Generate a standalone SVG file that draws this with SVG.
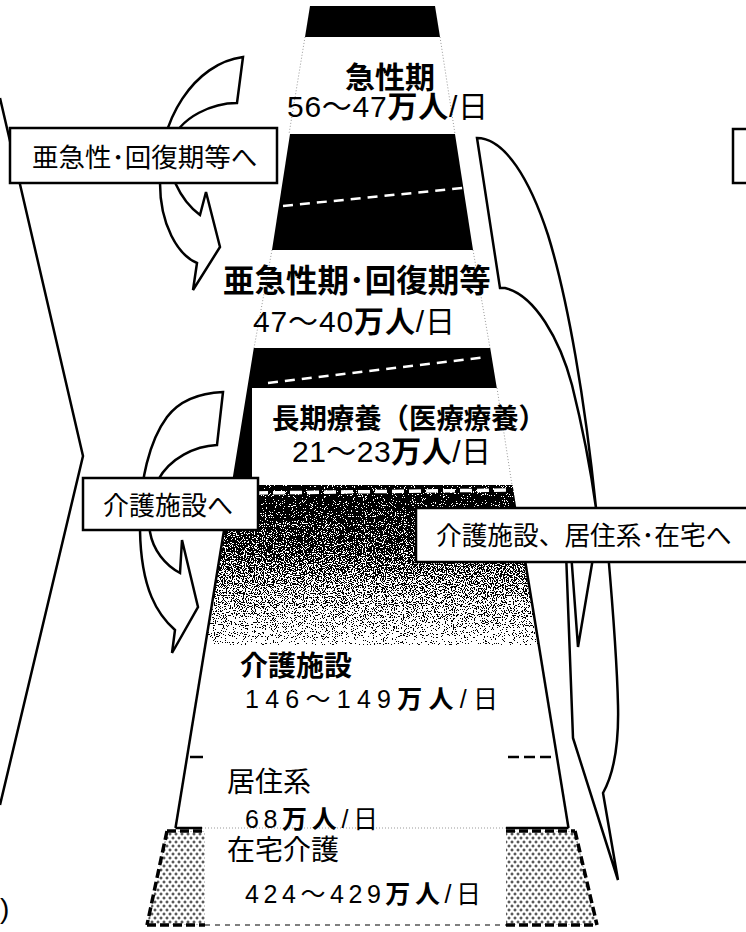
<svg xmlns="http://www.w3.org/2000/svg" width="746" height="932" viewBox="0 0 746 932">
<style>
.t{font-family:"Liberation Sans","Noto Sans CJK JP",sans-serif;fill:#000}
.b{font-weight:bold}
.box{fill:#fff;stroke:#000;stroke-width:2.5}
.arrow{fill:#fff;stroke:#000;stroke-width:2.5;stroke-linejoin:miter}
.edge{fill:none;stroke:#000;stroke-width:2.5}
.wdash{fill:none;stroke:#fff;stroke-width:2.5;stroke-dasharray:10 7}
.wdash2{fill:none;stroke:#fff;stroke-width:3.5;stroke-dasharray:12 5}
.faint{fill:none;stroke:#999;stroke-width:1;stroke-dasharray:1 2}
.kdash{fill:none;stroke:#000;stroke-width:3.5;stroke-dasharray:9 4}
.tdash{fill:none;stroke:#000;stroke-width:1.2;stroke-dasharray:5 5}
</style>
<defs>
<filter id="dither" filterUnits="userSpaceOnUse" x="150" y="480" width="420" height="170" color-interpolation-filters="sRGB">
<feTurbulence type="fractalNoise" baseFrequency="0.9" numOctaves="2" seed="5" result="n"/>
<feColorMatrix in="n" type="matrix" values="-3 0 0 0 2  -3 0 0 0 2  -3 0 0 0 2  0 0 0 0 1" result="ni"/>
<feComposite in="SourceGraphic" in2="ni" operator="arithmetic" k1="0" k2="1" k3="1" k4="-0.5" result="s"/>
<feComponentTransfer in="s"><feFuncR type="discrete" tableValues="0 1"/><feFuncG type="discrete" tableValues="0 1"/><feFuncB type="discrete" tableValues="0 1"/><feFuncA type="linear" slope="0" intercept="1"/></feComponentTransfer>
</filter>
<linearGradient id="fade" gradientUnits="userSpaceOnUse" x1="0" y1="485" x2="0" y2="645">
<stop offset="0" stop-color="#000"/>
<stop offset="0.1" stop-color="#000"/>
<stop offset="0.2" stop-color="#222"/>
<stop offset="0.4" stop-color="#444"/>
<stop offset="0.6" stop-color="#8a8a8a"/>
<stop offset="0.8" stop-color="#bbb"/>
<stop offset="0.95" stop-color="#e8e8e8"/>
<stop offset="1" stop-color="#fff"/>
</linearGradient>
<clipPath id="grainClip"><polygon points="231.4,485 512.6,485 538.5,645 205.3,645"/></clipPath>
<pattern id="cross" width="6" height="8" patternUnits="userSpaceOnUse">
<rect width="6" height="8" fill="#fff"/>
<path d="M0.5,2h3M2,0.5v3M3.5,6h3M5,4.5v3M-2.5,6h3" stroke="#222" stroke-width="1"/>
</pattern>
</defs>
<rect width="746" height="932" fill="#fff"/>

<g id="acute">
<polygon points="310,6 435,6 440,37 305,37" fill="#000"/>
<line class="faint" x1="305" y1="37" x2="289" y2="134"/>
<line class="faint" x1="440" y1="37" x2="455" y2="134"/>
<text class="t b" x="345" y="88" font-size="30">急性期</text>
<text class="t" x="287" y="117" font-size="30" textLength="201" lengthAdjust="spacing">56～47<tspan class="b">万人</tspan>/日</text>
</g>

<g id="subacute">
<polygon points="290,134 455,134 473,250 272,250" fill="#000"/>
<line class="wdash" x1="283" y1="206" x2="463" y2="188"/>
<line class="faint" x1="272" y1="250" x2="254" y2="348"/>
<line class="faint" x1="473" y1="250" x2="490" y2="348"/>
<text class="t b" x="223" y="292" font-size="31.5">亜急性期･回復期等</text>
<text class="t" x="253" y="332" font-size="30" textLength="202" lengthAdjust="spacing">47～40<tspan class="b">万人</tspan>/日</text>
</g>

<g id="longterm">
<polygon points="253.8,348 490.2,348 496.8,388 252,388 252,486 231.4,486" fill="#000"/>
<line class="wdash" x1="268" y1="383" x2="487" y2="357"/>
<line class="faint" x1="497" y1="388" x2="512" y2="485"/>
<text class="t b" x="272" y="429" font-size="28" textLength="274" lengthAdjust="spacingAndGlyphs">長期療養（医療療養）</text>
<text class="t" x="292" y="462" font-size="30" textLength="199" lengthAdjust="spacing">21～23<tspan class="b">万人</tspan>/日</text>
</g>

<g id="transition">
<rect x="150" y="480" width="420" height="170" fill="url(#fade)" filter="url(#dither)" clip-path="url(#grainClip)"/>
<line class="wdash2" x1="256" y1="493" x2="510" y2="490"/>
</g>

<g id="care-facility">
<line class="edge" x1="231.4" y1="485" x2="175.5" y2="828"/>
<line class="edge" x1="525" y1="560" x2="568.5" y2="828"/>
<line class="edge" x1="175.5" y1="828" x2="202" y2="828"/>
<line class="edge" x1="506" y1="828" x2="568.5" y2="828"/>
<line class="faint" x1="202" y1="828" x2="506" y2="828" stroke="#555"/>
<text class="t b" x="240" y="676" font-size="28">介護施設</text>
<text class="t" x="245" y="708" font-size="25" textLength="253" lengthAdjust="spacing">146～149<tspan class="b">万人</tspan>/日</text>
</g>

<g id="residential">
<line class="edge" x1="190" y1="757" x2="203" y2="757"/>
<line class="edge" x1="508" y1="757" x2="555" y2="757" stroke-dasharray="11 5"/>
<text class="t" x="227" y="792" font-size="28">居住系</text>
<text class="t" x="245" y="828" font-size="25" textLength="133" lengthAdjust="spacing">68<tspan class="b">万人</tspan>/日</text>
</g>

<g id="home-care">
<polygon points="167,831 205,831 205,925 147,925" fill="url(#cross)"/>
<polygon points="506,831 575,831 597,925 506,925" fill="url(#cross)"/>
<line class="kdash" x1="167" y1="831" x2="147" y2="925"/>
<line class="kdash" x1="575" y1="831" x2="597" y2="925"/>
<line class="kdash" x1="167" y1="831" x2="205" y2="831"/>
<line class="kdash" x1="506" y1="831" x2="575" y2="831"/>
<line class="kdash" x1="147" y1="925" x2="205" y2="925"/>
<line class="kdash" x1="506" y1="925" x2="597" y2="925"/>
<line class="tdash" x1="205" y1="925" x2="506" y2="925"/>
<text class="t" x="227" y="860" font-size="28">在宅介護</text>
<text class="t" x="245" y="903" font-size="25" textLength="236" lengthAdjust="spacing">424～429<tspan class="b">万人</tspan>/日</text>
</g>

<g id="connectors">
<polyline class="edge" points="0,98 83,456 0,805"/>
<path id="arrow-subacute" class="arrow" d="M243,57 L237,103 C215,103 180,115 170,145 C165,170 180,200 200,215 L206,192 L220,247 L193,290 L197,263 C178,255 160,225 160,183 C157,120 195,63 243,57 Z"/>
<path id="arrow-care" class="arrow" d="M223,392 L217,445 C195,446 170,458 158,480 C148,500 148,520 150,532 C153,550 165,565 180,573 L182,540 L198,607 L172,653 L175,630 C158,615 141,590 140,530 C139,480 150,440 167,417 C180,400 200,393 223,392 Z"/>
<path id="arrow-right-top" class="arrow" d="M477,138 C505,138 530,180 548,235 C568,300 585,400 596,508 C590,465 582,425 572,385 C560,340 535,295 505,288 L500,288 Z"/>
<path id="arrow-right-bottom" class="arrow" d="M566,552 L573,738 L618,880 L603,793 C613,775 619,745 618,705 C617,660 613,610 608,552 Z"/>
<path class="edge" d="M571,552 L578,647 L594,552"/>
</g>

<g id="label-subacute">
<rect class="box" x="10" y="128" width="267" height="55"/>
<text class="t" x="32" y="167" font-size="26.5">亜急性･回復期等へ</text>
</g>
<g id="label-care">
<rect class="box" x="83" y="478" width="175" height="52"/>
<text class="t" x="103" y="515" font-size="26">介護施設へ</text>
</g>
<g id="label-care-home">
<rect class="box" x="416" y="508" width="345" height="54"/>
<text class="t" x="436" y="545" font-size="25.7">介護施設、居住系･在宅へ</text>
</g>
<g id="label-partial">
<rect class="box" x="733" y="129" width="30" height="54"/>
</g>
<text class="t" x="0" y="918" font-size="28">)</text>
</svg>
